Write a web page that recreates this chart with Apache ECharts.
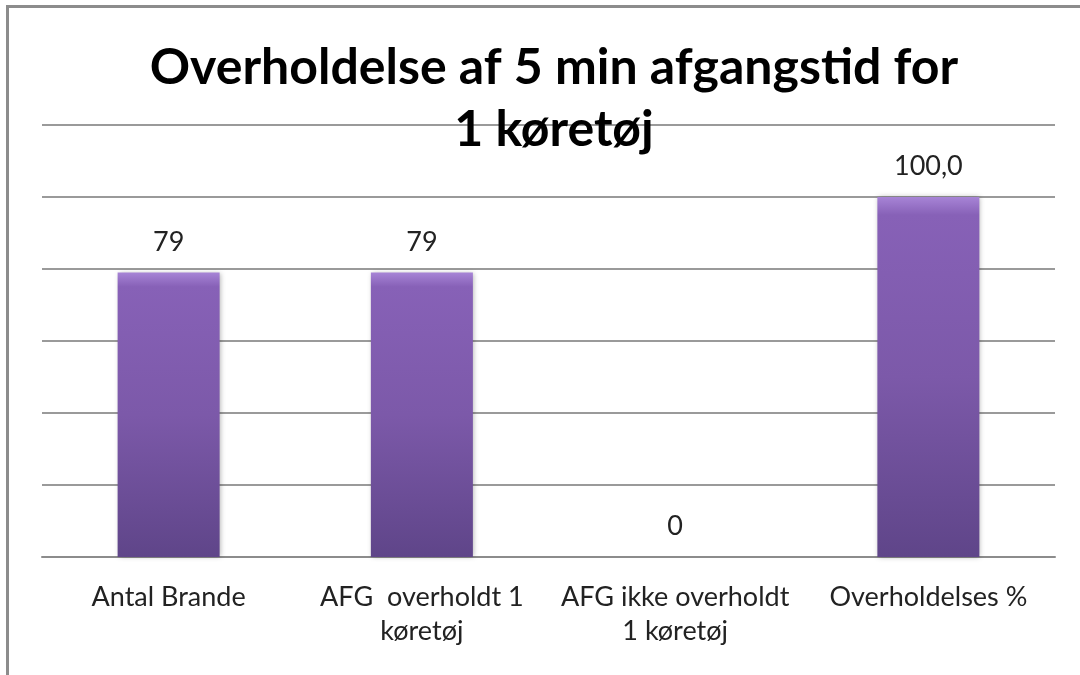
<!DOCTYPE html>
<html>
<head>
<meta charset="utf-8">
<script src="https://cdn.jsdelivr.net/npm/echarts@6/dist/echarts.min.js"></script>
<style>
  html, body { margin: 0; padding: 0; background: #fff; }
  #chart { width: 1080px; height: 675px; }
</style>
</head>
<body>
<div id="chart"></div>
<script>
var categories = ['Antal Brande', 'AFG  overholdt 1\nkøretøj', 'AFG ikke overholdt\n1 køretøj', 'Overholdelses %'];
var values = [79, 79, 0, 100];
var valueLabels = ['79', '79', '0', '100,0'];
var titleText = 'Overholdelse af 5 min afgangstid for\n1 køretøj';

var myechart = echarts.init(document.getElementById('chart'));
myechart.setOption({
  animation: false,
  textStyle: { fontFamily: 'Lato' },
  title: {
    text: titleText,
    left: 549,
    textAlign: 'center',
    top: 32,
    textStyle: { fontSize: 50, fontWeight: 'bold', color: '#000', lineHeight: 62, fontFamily: 'Lato' }
  },
  graphic: [{
    type: 'rect',
    shape: { x: 7.5, y: 6.5, width: 1200, height: 800 },
    style: { fill: 'none', stroke: '#8c8c8c', lineWidth: 3 },
    z: -1
  }],
  grid: { left: 42, right: 25, top: 125, bottom: 118 },
  xAxis: {
    type: 'category',
    data: categories,
    axisTick: { show: false },
    axisLine: { lineStyle: { color: '#8c8c8c', width: 2 } },
    axisLabel: { color: '#222', fontSize: 27, lineHeight: 34, margin: 23, interval: 0 }
  },
  yAxis: {
    type: 'value',
    min: 0,
    max: 120,
    interval: 20,
    axisLabel: { show: false },
    axisLine: { show: false },
    axisTick: { show: false },
    splitLine: { lineStyle: { color: '#9a9a9a', width: 2 } }
  },
  series: [{
    type: 'bar',
    data: values,
    barWidth: 102,
    itemStyle: {
      color: new echarts.graphic.LinearGradient(0, 0, 0, 1, [
        { offset: 0, color: '#a784d6' },
        { offset: 0.05, color: '#8761b7' },
        { offset: 0.5, color: '#7c59a9' },
        { offset: 1, color: '#5f4589' }
      ]),
      borderWidth: 0,
      shadowColor: 'rgba(0,0,0,0.3)',
      shadowBlur: 5,
      shadowOffsetX: 1
    },
    label: {
      show: true,
      position: 'top',
      distance: 17,
      color: '#222',
      fontSize: 27,
      formatter: function (p) { return valueLabels[p.dataIndex]; }
    }
  }]
});
</script>
</body>
</html>
